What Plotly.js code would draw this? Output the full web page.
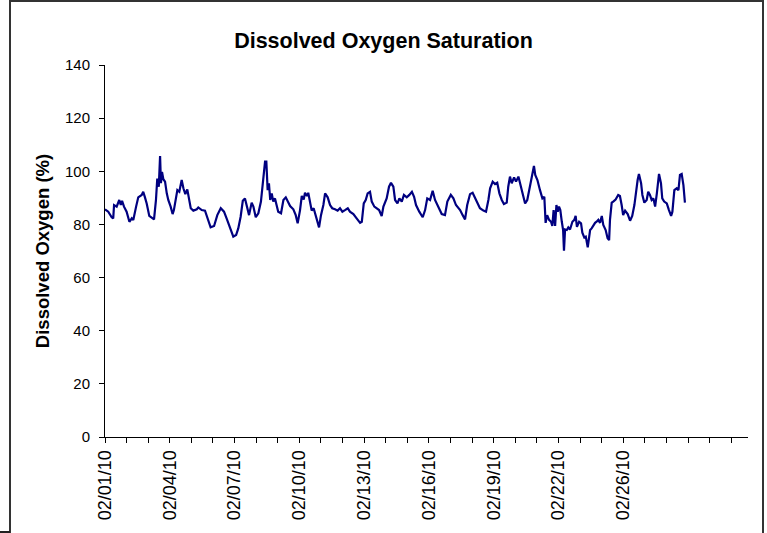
<!DOCTYPE html>
<html>
<head>
<meta charset="utf-8">
<script src="https://cdn.plot.ly/plotly-3.0.1.min.js"></script>
<style>
  html, body { margin: 0; padding: 0; background: #fff; }
  #wrap { position: relative; width: 767px; height: 533px; overflow: hidden; }
  #chart { position: absolute; left: 0; top: 0; width: 767px; height: 533px; }
  #frame { position: absolute; left: 9px; top: 0px; width: 751px; height: 540px;
           border-left: 2px solid #333; border-top: 2px solid #333; border-right: 2px solid #333;
           pointer-events: none; }
  #stub { position: absolute; left: 0; top: 531px; width: 10px; height: 0; border-top: 2px solid #222; }
</style>
</head>
<body>
<div id="wrap">
  <div id="chart"></div>
  <div id="frame"></div>
  <div id="stub"></div>
</div>
<script>
// sample index along the category axis (100 samples per tick mark)
const sampleIdx = [
  0,15,31,38,42,54,66,73,79,88,
  100,113,124,131,144,154,170,177,185,193,
  205,221,227,236,242,249,255,259,264,270,
  278,286,293,304,313,319,329,335,344,355,
  363,372,381,390,397,409,425,432,448,463,
  478,489,505,520,536,551,563,579,594,607,
  617,628,638,648,656,667,679,687,698,710,
  722,733,741,747,753,759,765,772,779,787,
  795,802,815,826,837,846,857,872,883,892,
  903,911,920,926,935,941,951,957,966,976,
  985,991,1000,1011,1019,1031,1042,1052,1065,1077,
  1088,1099,1111,1124,1134,1150,1165,1181,1189,1198,
  1207,1216,1227,1235,1247,1258,1269,1281,1289,1304,
  1315,1324,1335,1343,1354,1363,1374,1384,1397,1409,
  1421,1431,1440,1455,1471,1482,1492,1505,1517,1528,
  1543,1559,1574,1585,1601,1613,1625,1644,1656,1667,
  1677,1690,1702,1713,1724,1736,1752,1764,1775,1783,
  1795,1806,1816,1826,1837,1847,1860,1867,1875,1883,
  1894,1903,1914,1925,1934,1945,1955,1968,1980,1986,
  1992,2002,2014,2025,2034,2040,2047,2056,2065,2071,
  2077,2084,2090,2096,2102,2108,2115,2121,2125,2130,
  2138,2145,2153,2164,2173,2179,2185,2195,2204,2210,
  2219,2226,2235,2246,2253,2261,2269,2276,2284,2292,
  2300,2307,2318,2327,2334,2338,2346,2353,2364,2376,
  2384,2392,2399,2408,2420,2431,2441,2451,2457,2466,
  2472,2482,2488,2497,2508,2515,2523,2531,2539,2547,
  2555,2565,2574,2580,2589,2601,2611,2621,2627,2636,
  2647,2655,2662,2670,2678,2685
];

// dissolved oxygen saturation (%)
const doSaturation = [
  85.7,84.8,82.7,82.3,87.3,86.7,89.2,87.3,88.9,86.7,
  84.8,81.0,82.3,81.7,86.7,90.2,91.1,92.3,90.2,87.9,
  83.2,82.3,81.9,89.2,97.3,94.2,105.7,95.5,99.8,97.0,
  96.1,91.7,89.2,86.7,83.9,85.4,89.8,92.9,92.3,96.7,
  93.6,91.4,93.2,89.8,86.1,85.2,85.7,86.4,85.4,85.2,
  81.7,78.9,79.4,83.5,86.1,84.8,82.3,78.5,75.4,76.0,
  78.5,82.9,88.9,89.8,87.0,83.5,88.2,86.7,82.7,84.2,
  88.6,96.7,103.6,103.6,92.9,95.5,89.2,91.7,88.6,89.8,
  87.3,84.8,84.2,89.2,90.2,88.6,86.9,85.7,83.5,80.4,
  85.4,90.7,89.4,91.9,90.7,91.9,87.9,85.2,86.1,83.5,
  80.4,78.9,83.5,87.3,91.7,90.2,87.3,86.1,85.7,85.2,
  86.1,84.8,85.4,86.1,84.8,83.9,82.3,80.6,81.0,87.9,
  89.2,91.7,92.3,88.6,86.7,86.1,85.4,83.2,86.7,89.8,
  94.2,95.7,94.2,89.2,87.9,89.8,88.6,91.1,90.2,91.1,
  92.3,90.4,87.3,84.8,82.7,85.4,89.8,89.2,92.7,89.2,
  86.7,83.9,83.5,88.6,91.1,89.8,87.3,85.4,83.5,81.9,
  87.3,91.4,91.9,89.8,87.9,86.1,85.2,84.8,89.2,93.6,
  96.1,95.2,95.7,91.7,89.2,87.7,88.2,94.2,98.0,95.5,
  97.7,96.1,98.0,94.2,91.7,87.9,89.2,94.2,98.6,102.0,
  98.6,96.7,92.9,89.8,90.4,80.6,83.5,81.7,81.0,79.4,
  85.4,79.4,87.3,84.8,86.7,85.4,81.0,77.9,70.1,78.1,
  77.9,78.9,78.1,81.0,81.7,83.2,79.1,81.0,80.4,76.9,
  75.1,75.4,71.4,77.9,78.5,79.8,80.6,81.0,81.7,80.6,
  83.2,79.8,77.9,74.8,74.1,81.7,88.2,88.6,89.4,91.1,
  90.7,87.3,83.5,85.2,83.9,81.4,83.2,87.3,91.7,96.7,
  99.0,95.5,91.1,88.2,89.2,92.3,91.1,89.2,89.8,86.7,
  91.7,99.0,95.5,89.8,88.6,87.9,85.4,83.2,84.8,92.9,
  93.6,92.9,98.6,99.0,94.8,88.2
];

// category-axis tick marks and their labels
const tickPos = [0,100,200,300,400,500,600,700,800,900,1000,1100,1200,1300,1400,
                 1500,1600,1700,1800,1900,2000,2100,2200,2300,2400,2500,2600,2700,2800,2900];
const tickLabels = ['02/01/10','','','02/04/10','','','02/07/10','','','02/10/10','','',
                    '02/13/10','','','02/16/10','','','02/19/10','','','02/22/10','','',
                    '02/26/10','','','','',''];
const yTicks = [0,20,40,60,80,100,120,140];

const FONT = 'Arial, "Liberation Sans", sans-serif';

const trace = {
  x: sampleIdx,
  y: doSaturation,
  type: 'scatter',
  mode: 'lines',
  line: {color: '#000080', width: 2.2},
  hoverinfo: 'skip'
};

const layout = {
  width: 767,
  height: 533,
  margin: {l: 105, r: 19, t: 65, b: 96, pad: 0},
  paper_bgcolor: '#ffffff',
  plot_bgcolor: '#ffffff',
  showlegend: false,
  title: {
    text: '<b>Dissolved Oxygen Saturation</b>',
    font: {family: FONT, size: 21.5, color: '#000'},
    x: 0.5, xref: 'container', xanchor: 'center',
    y: 0.925, yref: 'container', yanchor: 'middle'
  },
  xaxis: {
    range: [0, 2977],
    tickmode: 'array',
    tickvals: tickPos,
    ticktext: tickLabels,
    tickangle: -90,
    ticks: 'outside',
    ticklen: 5,
    tickcolor: '#000',
    tickwidth: 1,
    showline: true,
    linecolor: '#000',
    linewidth: 1,
    showgrid: false,
    zeroline: false,
    tickfont: {family: FONT, size: 18, color: '#000'},
    fixedrange: true
  },
  yaxis: {
    range: [0, 140],
    tickmode: 'array',
    tickvals: yTicks,
    ticks: 'outside',
    ticklen: 5,
    tickcolor: '#000',
    tickwidth: 1,
    showline: true,
    linecolor: '#000',
    linewidth: 1,
    showgrid: false,
    zeroline: false,
    ticklabelstandoff: 6,
    tickfont: {family: FONT, size: 15, color: '#000'},
    title: {
      text: '<b>Dissolved Oxygen (%)</b>',
      font: {family: FONT, size: 18.5, color: '#000'},
      standoff: 10
    },
    automargin: false,
    fixedrange: true
  }
};

Plotly.newPlot('chart', [trace], layout, {displayModeBar: false, staticPlot: true});
</script>
</body>
</html>
